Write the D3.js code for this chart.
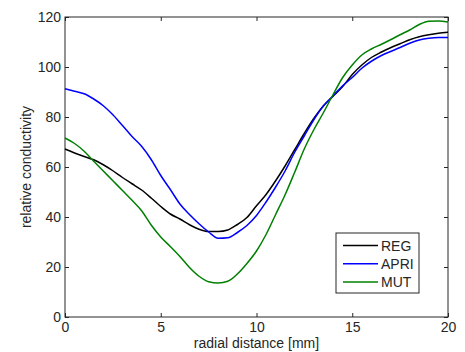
<!DOCTYPE html>
<html><head><meta charset="utf-8">
<script src="https://cdn.jsdelivr.net/npm/d3@7"></script>
<style>
body{margin:0;background:#fff;}
svg{display:block;}
text{font-family:"Liberation Sans",Arial,Helvetica,sans-serif;fill:#262626;}
</style></head>
<body><svg id="c" width="465" height="352"></svg>
<script>
const xs = d3.range(0, 20.001, 0.5);
const reg = [67.2,65.6,64.2,62.9,60.9,58.5,55.8,53.3,50.8,47.6,44.2,41.2,39.2,36.9,35.1,34.2,34.2,34.8,37,39.8,44.5,49,54.5,60.5,67,73.5,79.5,84.5,88.3,92.2,97,100.8,103.8,105.9,107.7,109.3,110.9,112.1,112.9,113.5,113.9];
const apri = [91.3,90.3,89.3,87.2,84.5,80.9,76.6,72.2,68.3,63,56.6,51,45.2,41,37.3,34,31.5,31.7,33.8,36.6,40.6,46,52,58.5,66,72.5,79,84.5,88.5,92.5,95.8,99.5,102.3,104.5,106.2,107.8,109.5,110.8,111.5,111.8,111.8];
const mut = [71.6,69.4,66.3,62.3,58.4,54.5,50.6,46.7,42.5,36.8,32,28.2,24.2,19.8,16.3,14.1,13.6,14.3,17.2,21.4,26.4,33,41,49,58,67.3,75,81.8,89,95.8,100.8,104.8,107.2,109,110.9,112.9,114.8,117,118.3,118.4,118];
const seriesNames = ["REG","APRI","MUT"];
const seriesColors = ["#000000","#0000ff","#008000"];
const xTicks = [0,5,10,15,20];
const yTicks = [0,20,40,60,80,100,120];

const svg = d3.select("#c");
const L=65, R=448, T=17, B=317;
const x = d3.scaleLinear().domain([0,20]).range([L,R]);
const y = d3.scaleLinear().domain([0,120]).range([B,T]);
const axCol = "#262626";
const fs = 14;

// box
svg.append("rect").attr("x",L).attr("y",T).attr("width",R-L).attr("height",B-T)
  .attr("fill","none").attr("stroke",axCol).attr("stroke-width",1);

// axes with inward ticks
const gx = svg.append("g").attr("transform",`translate(0,${B})`)
  .call(d3.axisBottom(x).tickValues(xTicks).tickSize(-4).tickPadding(5).tickFormat(d3.format("d")));
const gxt = svg.append("g").attr("transform",`translate(0,${T})`)
  .call(d3.axisTop(x).tickValues(xTicks).tickSize(-4).tickFormat(""));
const gy = svg.append("g").attr("transform",`translate(${L},0)`)
  .call(d3.axisLeft(y).tickValues(yTicks).tickSize(-4).tickPadding(4).tickFormat(d3.format("d")));
const gyr = svg.append("g").attr("transform",`translate(${R},0)`)
  .call(d3.axisRight(y).tickValues(yTicks).tickSize(-4).tickFormat(""));
[gx,gxt,gy,gyr].forEach(g=>{
  g.select(".domain").remove();
  g.selectAll(".tick line").attr("stroke",axCol);
  g.selectAll("text").attr("font-size",fs).attr("fill",axCol)
    .attr("font-family","Liberation Sans, Arial, sans-serif");
});

// lines
const data = [reg, apri, mut];
const line = d3.line().x((d,i)=>x(xs[i])).y(d=>y(d)).curve(d3.curveMonotoneX);
data.forEach((s,k)=>{
  svg.append("path").datum(s).attr("d",line).attr("fill","none")
    .attr("stroke",seriesColors[k]).attr("stroke-width",1.5).attr("stroke-linejoin","round");
});

// axis labels
svg.append("text").attr("x",(L+R)/2).attr("y",348).attr("text-anchor","middle")
  .attr("font-size",fs).text("radial distance [mm]");
svg.append("text").attr("transform",`translate(31,${(T+B)/2}) rotate(-90)`)
  .attr("text-anchor","middle").attr("font-size",fs).text("relative conductivity");

// legend
const lg = svg.append("g");
lg.append("rect").attr("x",336).attr("y",233).attr("width",83).attr("height",60)
  .attr("fill","#fff").attr("stroke",axCol).attr("stroke-width",1);
seriesNames.forEach((n,k)=>{
  const yy = 245.5 + k*18.3;
  lg.append("line").attr("x1",343).attr("x2",378).attr("y1",yy).attr("y2",yy)
    .attr("stroke",seriesColors[k]).attr("stroke-width",1.5);
  lg.append("text").attr("x",381).attr("y",yy).attr("dy","0.36em")
    .attr("font-size",fs).text(n);
});
</script></body></html>
